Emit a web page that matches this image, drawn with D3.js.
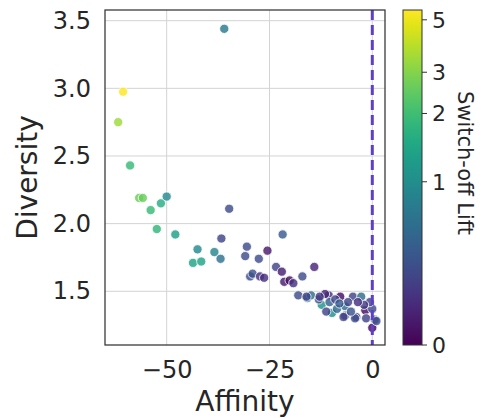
<!DOCTYPE html>
<html>
<head>
<meta charset="utf-8">
<script src="https://cdn.jsdelivr.net/npm/d3@7"></script>
<style>
  body { margin: 0; background: #fff; }
  svg text { font-family: "DejaVu Sans", sans-serif; fill: #262626; }
</style>
</head>
<body>
<div id="chart"></div>
<script>
// values
var affinity = [-36.0, -60.6, -61.8, -58.9, -56.7, -55.8, -51.4, -50.0, -53.9, -52.4,
  -47.9, -34.8, -42.5, -38.4, -36.9, -43.6, -41.6, -36.7, -30.5, -30.9,
  -27.6, -25.5, -21.8, -29.7, -29.1, -27.3, -26.3, -23.4, -22.0, -21.4,
  -20.1, -19.2, -17.0, -14.1, -18.0, -15.8, -14.9, -12.3, -10.6, -10.4,
  -9.8, -11.2, -8.6, -7.8, -6.6, -6.6, -4.7, -2.7, -5.9, -3.9,
  -1.7, -1.5, 0.0, 0.0, 0.6, -7.0, -4.2, 1.0, -0.6, -2.0,
  -13.0, -11.5, -9.0, -3.5, -12.8, -5.2, -16.0, -8.0];
var diversity = [3.44, 2.975, 2.75, 2.43, 2.19, 2.19, 2.15, 2.20, 2.10, 1.96,
  1.92, 2.11, 1.81, 1.79, 1.74, 1.71, 1.72, 1.89, 1.83, 1.76,
  1.74, 1.80, 1.92, 1.61, 1.63, 1.61, 1.60, 1.68, 1.645, 1.57,
  1.58, 1.56, 1.61, 1.68, 1.47, 1.45, 1.47, 1.40, 1.47, 1.42,
  1.34, 1.35, 1.37, 1.46, 1.39, 1.32, 1.46, 1.46, 1.42, 1.31,
  1.36, 1.30, 1.23, 1.37, 1.29, 1.31, 1.30, 1.28, 1.42, 1.40,
  1.44, 1.48, 1.44, 1.42, 1.46, 1.35, 1.46, 1.41];
var lift = [0.74, 5.5, 3.4, 1.9, 2.6, 2.6, 1.6, 0.95, 1.9, 1.8,
  1.3, 0.35, 0.95, 0.9, 0.65, 1.4, 1.4, 0.3, 0.35, 0.35,
  0.35, 0.1, 0.45, 0.35, 0.4, 0.2, 0.2, 0.3, 0.12, 0.1,
  0.05, 0.2, 0.35, 0.15, 0.35, 0.7, 0.6, 1.1, 0.2, 0.5,
  1.0, 0.3, 0.55, 0.05, 0.6, 0.25, 0.3, 0.6, 0.3, 0.3,
  0.05, 0.3, 0.02, 0.35, 0.35, 0.3, 0.35, 0.35, 0.3, 0.25,
  0.4, 0.15, 0.3, 0.2, 0.25, 0.4, 0.3, 0.45];

var xTicks = [-50, -25, 0];
var yTicks = [1.5, 2.0, 2.5, 3.0, 3.5];
var liftTicks = [0, 1, 2, 3, 5];
var liftMax = 5.5;
var asinhScale = 0.43;

var W = 483, H = 418;
var margin = {top: 10, right: 98, bottom: 73, left: 105};
var plotW = W - margin.left - margin.right,
    plotH = H - margin.top - margin.bottom;

var svg = d3.select("#chart").append("svg")
  .attr("width", W)
  .attr("height", H);

var x = d3.scaleLinear().domain([-65.0, 3.09]).range([0, plotW]);
var y = d3.scaleLinear().domain([1.103, 3.579]).range([plotH, 0]);

// colour norm: asinh stretch, like the bar
function liftT(v) {
  return Math.asinh(v / asinhScale) / Math.asinh(liftMax / asinhScale);
}
function liftColor(v) { return d3.interpolateViridis(liftT(v)); }

var g = svg.append("g")
  .attr("transform", "translate(" + margin.left + "," + margin.top + ")");

// grid
g.append("g").selectAll("line.gx")
  .data(xTicks).enter().append("line")
  .attr("x1", d => x(d)).attr("x2", d => x(d))
  .attr("y1", 0).attr("y2", plotH)
  .attr("stroke", "#d3d3d3").attr("stroke-width", 1);
g.append("g").selectAll("line.gy")
  .data(yTicks).enter().append("line")
  .attr("y1", d => y(d)).attr("y2", d => y(d))
  .attr("x1", 0).attr("x2", plotW)
  .attr("stroke", "#d3d3d3").attr("stroke-width", 1);

// points
var pts = affinity.map((a, i) => ({a: a, d: diversity[i], l: lift[i]}));
g.append("g").selectAll("circle")
  .data(pts).enter().append("circle")
  .attr("cx", d => x(d.a))
  .attr("cy", d => y(d.d))
  .attr("r", 4.6)
  .attr("fill", d => liftColor(d.l))
  .attr("fill-opacity", 0.82)
  .attr("stroke", "#fff")
  .attr("stroke-width", 0.8);

// reference line at 0
g.append("line")
  .attr("x1", x(0)).attr("x2", x(0))
  .attr("y1", 0).attr("y2", plotH)
  .attr("stroke", "#5f3fc6")
  .attr("stroke-width", 3)
  .attr("stroke-dasharray", "10,5");

// frame
g.append("rect")
  .attr("width", plotW).attr("height", plotH)
  .attr("fill", "none").attr("stroke", "#333").attr("stroke-width", 1.25);

// axes
var xAxis = d3.axisBottom(x).tickValues(xTicks).tickSize(0).tickPadding(16)
  .tickFormat(d => d3.format("")(d).replace("-", "\u2212"));
var yAxis = d3.axisLeft(y).tickValues(yTicks).tickSize(0).tickPadding(14)
  .tickFormat(d3.format(".1f"));

g.append("g").attr("transform", "translate(0," + plotH + ")").call(xAxis)
  .call(s => s.select(".domain").remove())
  .selectAll("text").attr("font-size", 24).attr("fill", "#262626")
  .attr("font-family", "DejaVu Sans").attr("dy", "0.71em");
g.append("g").call(yAxis)
  .call(s => s.select(".domain").remove())
  .selectAll("text").attr("font-size", 24).attr("fill", "#262626")
  .attr("font-family", "DejaVu Sans");

// axis labels
svg.append("text")
  .attr("x", margin.left + plotW / 2).attr("y", 411)
  .attr("text-anchor", "middle").attr("font-size", 28)
  .text("Affinity");
svg.append("text")
  .attr("transform", "translate(37," + (margin.top + plotH / 2) + ")rotate(-90)")
  .attr("text-anchor", "middle").attr("font-size", 28)
  .text("Diversity");

// colourbar
var cbX = 403, cbW = 19;
var cb = d3.scaleLinear().domain([0, 1]).range([margin.top + plotH, margin.top]);
var defs = svg.append("defs");
var grad = defs.append("linearGradient").attr("id", "vir")
  .attr("x1", 0).attr("y1", 1).attr("x2", 0).attr("y2", 0);
d3.range(0, 1.0001, 0.05).forEach(t => {
  grad.append("stop").attr("offset", t).attr("stop-color", d3.interpolateViridis(t));
});
svg.append("rect")
  .attr("x", cbX).attr("y", margin.top)
  .attr("width", cbW).attr("height", plotH)
  .attr("fill", "url(#vir)")
  .attr("stroke", "#333").attr("stroke-width", 1);

var cbTicks = svg.append("g").selectAll("g")
  .data(liftTicks).enter().append("g")
  .attr("transform", d => "translate(" + (cbX + cbW) + "," + cb(liftT(d)) + ")");
cbTicks.append("line").attr("x1", 0).attr("x2", 5)
  .attr("stroke", "#333").attr("stroke-width", 1);
cbTicks.append("text").attr("x", 10).attr("dy", "0.36em")
  .attr("font-size", 22).text(d => d);

svg.append("text")
  .attr("transform", "translate(458,163)rotate(90)")
  .attr("text-anchor", "middle").attr("font-size", 21)
  .text("Switch-off Lift");
</script>
</body>
</html>
